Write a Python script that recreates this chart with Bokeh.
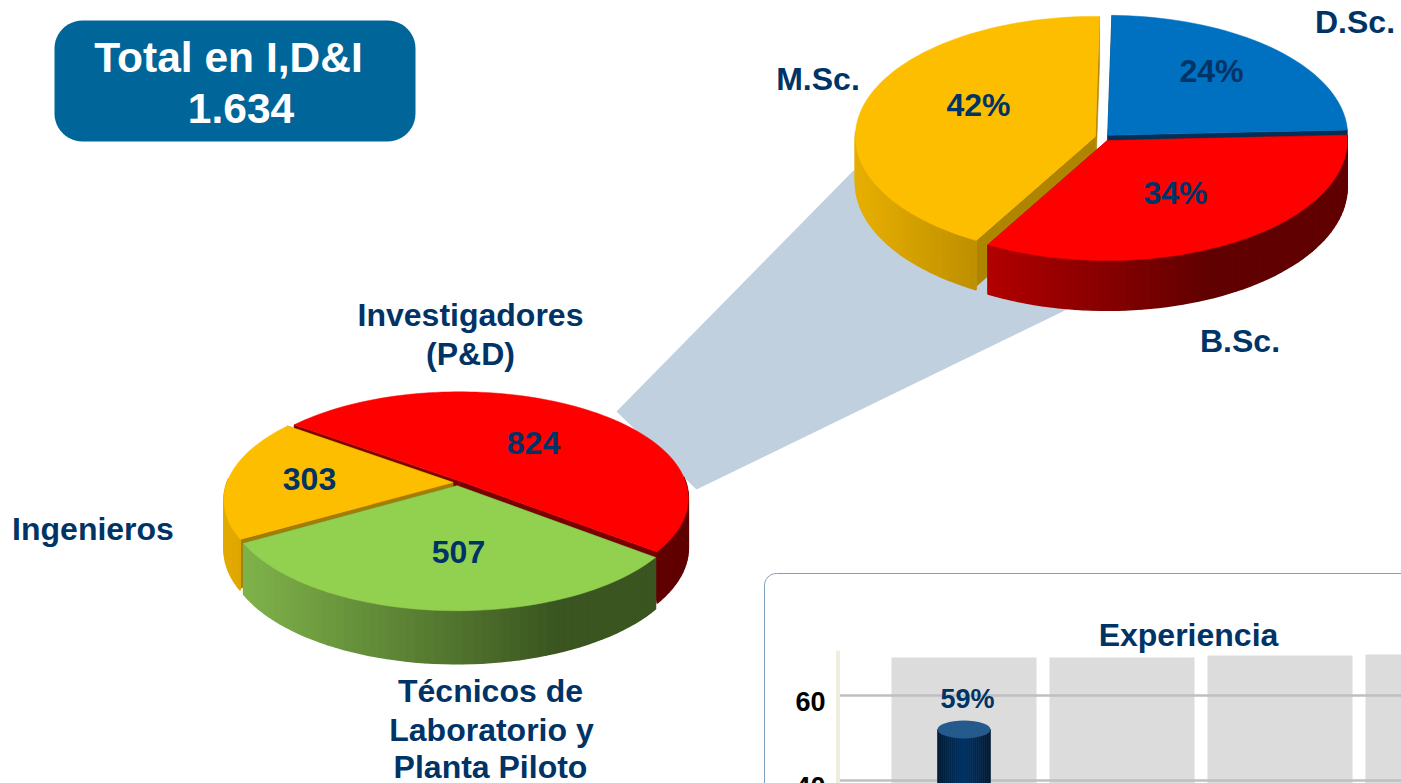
import math
from bokeh.plotting import figure
from bokeh.models import Range1d
from bokeh.core.properties import value
from bokeh.embed import file_html
from bokeh.resources import INLINE

# ---- data ----
staff_names = ["Investigadores", "Técnicos", "Ingenieros"]
staff_counts = [824, 507, 303]
degree_names = ["D.Sc.", "B.Sc.", "M.Sc."]
degree_shares = [24, 34, 42]
total_lines = ["Total en I,D&I", "1.634"]
experience_title = "Experiencia"
experience_bar_tops = [52]
experience_bar_labels = ["59%"]
experience_ticks = [60, 40]

W, H = 1401, 783
NAVY = "#003366"
FONT = value("Liberation Sans")

p = figure(width=W, height=H, x_range=Range1d(0, W), y_range=Range1d(H, 0),
           output_backend="svg", toolbar_location=None, min_border=0,
           x_axis_location=None, y_axis_location=None, outline_line_color=None,
           background_fill_color="white", border_fill_color="white")
p.grid.visible = False


def txt(x, base, s, size, color=NAVY, align="center"):
    # base is the baseline; the text is anchored by its middle
    p.text(x=[x], y=[base - 0.36 * size], text=[s], text_font=FONT, text_font_style="bold",
           text_font_size=f"{size}px", text_color=color, text_align=align,
           text_baseline="middle")


def mix(c0, c1, t):
    t = max(0.0, min(1.0, t))
    a = [int(c0[i:i + 2], 16) for i in (1, 3, 5)]
    b = [int(c1[i:i + 2], 16) for i in (1, 3, 5)]
    return "#%02x%02x%02x" % tuple(round(a[i] + (b[i] - a[i]) * t) for i in range(3))


def rounded(x0, y0, x1, y1, r):
    xs, ys = [], []
    for cx, cy, a0 in ((x1 - r, y0 + r, -90), (x1 - r, y1 - r, 0), (x0 + r, y1 - r, 90), (x0 + r, y0 + r, 180)):
        for i in range(13):
            a = math.radians(a0 + 90 * i / 12)
            xs.append(cx + r * math.cos(a))
            ys.append(cy + r * math.sin(a))
    return xs, ys


def draw_pie(values, start, geom, styles):
    cx, cy, a, b, k, depth = geom
    total = sum(values)

    def proj(u, v):
        d = 1 + k * v
        return cx + a * u / d, cy - b * v / d

    spans = []
    ang = start
    for val in values:
        sweep = 360 * val / total
        spans.append((ang, ang - sweep))
        ang -= sweep

    for idx in styles["order"]:
        st = styles["slices"][idx]
        a0, a1 = spans[idx]
        mid = math.radians((a0 + a1) / 2)
        ex, ey = st["explode"] * math.cos(mid), st["explode"] * math.sin(mid)
        n = max(8, int(abs(a1 - a0) / 2))
        arc = []
        for i in range(n + 1):
            t = math.radians(a0 + (a1 - a0) * i / n)
            arc.append((math.cos(t) + ex, math.sin(t) + ey))
        apex = (ex, ey)

        # cut faces
        for end in (arc[0], arc[-1]):
            A, B = proj(*apex), proj(*end)
            p.patch([A[0], B[0], B[0], A[0]],
                    [A[1], B[1], B[1] + depth, A[1] + depth],
                    fill_color=st["cut"], line_color=st["cut"], line_width=0.5)

        # outer wall, as narrow quads coloured along the horizontal gradient
        qx, qy, qc = [], [], []
        f0, c0, f1, c1 = st["wall"]
        for P, Q in zip(arc[:-1], arc[1:]):
            if (P[1] + Q[1]) / 2 - ey > 0.03:
                continue
            A, B = proj(*P), proj(*Q)
            frac = ((A[0] + B[0]) / 2 - (cx - a)) / (2 * a)
            col = mix(c0, c1, (frac - f0) / (f1 - f0))
            dA = depth * (1 - 0.08 * P[1])
            dB = depth * (1 - 0.08 * Q[1])
            qx.append([A[0], B[0], B[0], A[0]])
            qy.append([A[1], B[1], B[1] + dB, A[1] + dA])
            qc.append(col)
        if qx:
            p.patches(qx, qy, fill_color=qc, line_color=qc, line_width=1.5)

        # top
        pts = [proj(*apex)] + [proj(*q) for q in arc]
        p.patch([q[0] for q in pts], [q[1] for q in pts],
                fill_color=st["top"], line_color=st["top"], line_width=0.5)


# ---- callout band joining both pies ----
p.patch([616, 853, 1085, 696], [411, 170, 300, 489], fill_color="#C0D0DE", line_color=None)

# ---- lower pie ----
draw_pie(staff_counts, 143.5, (457, 482, 226, 104, 0.16, 49), {
    "order": [0, 2, 1],
    "slices": {
        0: dict(top="#FF0000", cut="#7A0000", wall=(0, "#600000", 1, "#600000"), explode=0.017),
        1: dict(top="#92D050", cut="#3F5C22", wall=(0.03, "#7FB24A", 0.72, "#3A5520"), explode=0.03),
        2: dict(top="#FDBE00", cut="#A67C00", wall=(0, "#E2AA00", 0.1, "#C99A00"), explode=0.02),
    }})

# ---- upper pie ----
draw_pie(degree_shares, 89, (1103, 137, 240, 120, 0.0, 46), {
    "order": [0, 2, 1],
    "slices": {
        0: dict(top="#0070C0", cut="#003057", wall=(0, "#003057", 1, "#003057"), explode=0.025),
        1: dict(top="#FF0000", cut="#900000", wall=(0.27, "#B00000", 0.72, "#600000"), explode=0.03),
        2: dict(top="#FDBE00", cut="#AF8500", wall=(0, "#E5AD00", 0.27, "#B88A00"), explode=0.035),
    }})

# ---- total box ----
bx, by = rounded(54, 20, 415, 141, 28)
p.patch(bx, by, fill_color="#006699", line_color=None)
txt(228, 72, total_lines[0], 42.5, "#FFFFFF")
txt(240.5, 123, total_lines[1], 42.5, "#FFFFFF")

# ---- pie labels ----
txt(533, 454, str(staff_counts[0]), 32)
txt(458, 563, str(staff_counts[1]), 32)
txt(309, 490, str(staff_counts[2]), 32)
txt(1211, 82, f"{degree_shares[0]}%", 32)
txt(1175, 204, f"{degree_shares[1]}%", 32)
txt(978, 116, f"{degree_shares[2]}%", 32)
txt(1354.5, 33, degree_names[0], 32)
txt(1239.5, 352, degree_names[1], 32)
txt(817.5, 90, degree_names[2], 32)
txt(470, 326, staff_names[0], 32)
txt(470, 365, "(P&D)", 32)
txt(92.5, 540, staff_names[2], 32)
txt(490, 702, "Técnicos de", 32)
txt(491, 741, "Laboratorio y", 32)
txt(490, 778, "Planta Piloto", 32)

# ---- experience card ----
cx_, cy_ = [764], [800]
for i in range(13):
    t = math.radians(180 + 90 * i / 12)
    cx_.append(776 + 12 * math.cos(t))
    cy_.append(585 + 12 * math.sin(t))
cx_.append(1420)
cy_.append(573)
p.line(cx_, cy_, line_color="#7F9FC0", line_width=1)
txt(1188, 646, experience_title, 32)

p.quad(left=[891, 1049, 1207, 1365], right=[1036, 1194, 1352, 1420],
       top=[657, 657, 655, 654], bottom=[800] * 4, fill_color="#DCDCDC", line_color=None)


def val_y(v):
    return 695 + (60 - v) * 4.25


p.segment(x0=[838] * 2, x1=[1420] * 2, y0=[val_y(v) for v in experience_ticks],
          y1=[val_y(v) for v in experience_ticks], line_color="#BFBFBF", line_width=2.5)
p.segment(x0=[837.5], x1=[837.5], y0=[650], y1=[800], line_color="#EEEDE0", line_width=4)
for v in experience_ticks:
    txt(825, val_y(v) + 16, str(v), 27, "#000000", "right")

# cylinder
bar_l, bar_r = 937, 990
steps = 26
sl, sr, sc = [], [], []
for i in range(steps):
    f = (i + 0.5) / steps
    sl.append(bar_l + (bar_r - bar_l) * i / steps)
    sr.append(bar_l + (bar_r - bar_l) * (i + 1) / steps)
    sc.append(mix("#001A33", NAVY, 1 - abs(2 * f - 1) * 1.0))
top_y = val_y(experience_bar_tops[0])
p.quad(left=sl, right=sr, top=[top_y] * steps, bottom=[800] * steps, fill_color=sc, line_color=sc, line_width=0.6)
p.ellipse(x=[(bar_l + bar_r) / 2], y=[top_y], width=[bar_r - bar_l], height=[18],
          fill_color="#255A8C", line_color=None)
txt(967, 708, experience_bar_labels[0], 27)

open("out.html", "w").write(file_html(p, INLINE))
